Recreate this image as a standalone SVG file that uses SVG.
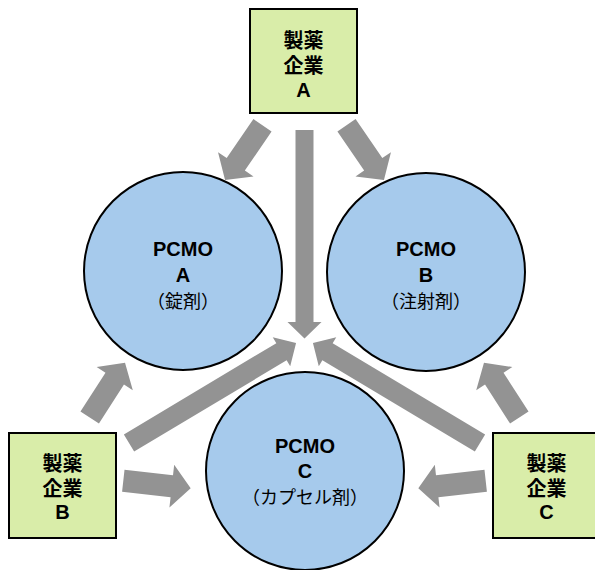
<svg xmlns="http://www.w3.org/2000/svg" width="595" height="570" viewBox="0 0 595 570">
<style>
.box{fill:#d9eda9;stroke:#000;stroke-width:2}
.circ{fill:#a6caec;stroke:#000;stroke-width:2}
.arr{fill:#939393}
.bt{font-family:"Liberation Sans","Noto Sans CJK JP",sans-serif;font-weight:bold;font-size:20px;text-anchor:middle;fill:#000}
.ct{font-family:"Liberation Sans","Noto Sans CJK JP",sans-serif;font-weight:bold;font-size:20px;text-anchor:middle;fill:#000}
.cj{font-family:"Noto Sans CJK JP",sans-serif;font-size:18px;text-anchor:middle;fill:#000}
</style>
<g id="connectors">
<path class="arr" transform="translate(262.5,125.3) rotate(124.4)" d="M0,-11 L47.3,-11 L47.3,-21.5 L66.3,0 L47.3,21.5 L47.3,11 L0,11 Z"/>
<path class="arr" transform="translate(346.5,125.3) rotate(55.6)" d="M0,-11 L47.3,-11 L47.3,-21.5 L66.3,0 L47.3,21.5 L47.3,11 L0,11 Z"/>
<path class="arr" transform="translate(89.7,417.5) rotate(-57.2)" d="M0,-11 L46.2,-11 L46.2,-21.5 L65.2,0 L46.2,21.5 L46.2,11 L0,11 Z"/>
<path class="arr" transform="translate(519.3,417.5) rotate(-122.8)" d="M0,-11 L46.2,-11 L46.2,-21.5 L65.2,0 L46.2,21.5 L46.2,11 L0,11 Z"/>
<path class="arr" transform="translate(123.3,480.8) rotate(6.35)" d="M0,-11 L48.8,-11 L48.8,-21.5 L67.8,0 L48.8,21.5 L48.8,11 L0,11 Z"/>
<path class="arr" transform="translate(485.7,480.8) rotate(173.65)" d="M0,-11 L48.8,-11 L48.8,-21.5 L67.8,0 L48.8,21.5 L48.8,11 L0,11 Z"/>
<path class="arr" transform="translate(304.5,130) rotate(90)" d="M0,-9 L192,-9 L192,-17 L208.5,0 L192,17 L192,9 L0,9 Z"/>
<path class="arr" transform="translate(129,443) rotate(-30.9)" d="M0,-10 L177.7,-10 L177.7,-17 L194.7,0 L177.7,17 L177.7,10 L0,10 Z"/>
<path class="arr" transform="translate(480,443) rotate(-149.1)" d="M0,-10 L177.7,-10 L177.7,-17 L194.7,0 L177.7,17 L177.7,10 L0,10 Z"/>
</g>
<g id="pcmoA">
<circle class="circ" cx="183" cy="271" r="99"/>
<text class="ct" x="183" y="256">PCMO</text>
<text class="ct" x="183" y="282">A</text>
<text class="cj" x="183" y="308">（錠剤）</text>
</g>
<g id="pcmoB">
<circle class="circ" cx="426" cy="272" r="99"/>
<text class="ct" x="426" y="256">PCMO</text>
<text class="ct" x="426" y="282">B</text>
<text class="cj" x="426" y="308">（注射剤）</text>
</g>
<g id="pcmoC">
<circle class="circ" cx="305" cy="471" r="99"/>
<text class="ct" x="305" y="453">PCMO</text>
<text class="ct" x="305" y="478">C</text>
<text class="cj" x="305" y="504">（カプセル剤）</text>
</g>
<g id="companyA">
<rect class="box" x="250" y="9" width="107" height="104"/>
<text class="bt" x="303.5" y="47.5">製薬</text>
<text class="bt" x="303.5" y="72.5">企業</text>
<text class="bt" x="303.5" y="97">A</text>
</g>
<g id="companyB">
<rect class="box" x="9" y="433" width="107" height="105"/>
<text class="bt" x="62.5" y="471">製薬</text>
<text class="bt" x="62.5" y="496">企業</text>
<text class="bt" x="62.5" y="519">B</text>
</g>
<g id="companyC">
<rect class="box" x="493" y="433" width="107" height="105"/>
<text class="bt" x="546.5" y="471">製薬</text>
<text class="bt" x="546.5" y="496">企業</text>
<text class="bt" x="546.5" y="519">C</text>
</g>
</svg>
